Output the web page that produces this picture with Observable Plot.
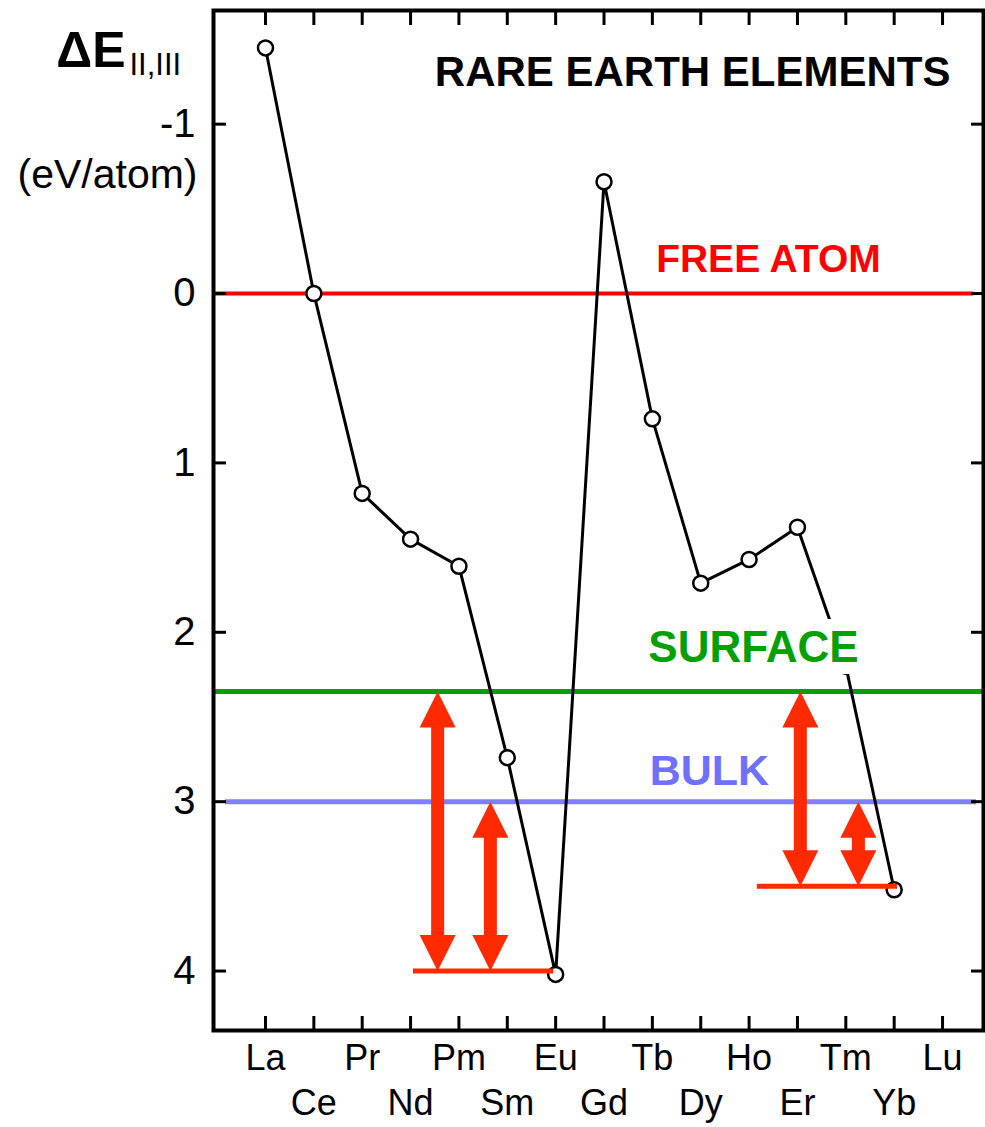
<!DOCTYPE html>
<html>
<head>
<meta charset="utf-8">
<script src="https://cdn.jsdelivr.net/npm/d3@7"></script>
<script src="https://cdn.jsdelivr.net/npm/@observablehq/plot@0.6"></script>
<style>
  html, body { margin: 0; padding: 0; background: #fff; }
</style>
</head>
<body>
<div id="chart"></div>
<script>
// Lanthanide series, La through Lu
const elements = ["La", "Ce", "Pr", "Nd", "Pm", "Sm", "Eu", "Gd", "Tb", "Dy", "Ho", "Er", "Tm", "Yb", "Lu"];
// ΔE(II,III) in eV/atom (no value plotted for Lu)
const deltaE = [-1.45, 0.0, 1.18, 1.45, 1.61, 2.74, 4.02, -0.66, 0.74, 1.71, 1.57, 1.38, 2.2, 3.52, null];

// Reference levels
const levelNames = ["FREE ATOM", "SURFACE", "BULK"];
const levelValues = [0, 2.35, 3.0];

// Divalent elements whose gaps to the surface and bulk levels are marked
const gapElements = ["Eu", "Yb"];
const gapBases = [4.0, 3.5];

const yTicks = [-1, 0, 1, 2, 3, 4];
const title = "RARE EARTH ELEMENTS";

// ---- derived tables ----
const points = elements
  .map((el, i) => ({i, el, e: deltaE[i]}))
  .filter(d => d.e != null);

const levelColors = ["#ff0000", "#00a000", "#7f7fff"];
const levelTextColors = ["#ff0000", "#00a000", "#7070ff"];
const arrowColor = "#ff2a00";

// annotation placement (in element-index units)
const gapLayout = [
  {shafts: [3.56, 4.65], span: [3.06, 5.96]},
  {shafts: [11.06, 12.26], span: [10.17, 13.07]}
];
const arrows = gapLayout.flatMap((g, k) => [
  {x: g.shafts[0], from: levelValues[1], to: gapBases[k]},
  {x: g.shafts[1], from: levelValues[2], to: gapBases[k]}
]);
const bases = gapLayout.map((g, k) => ({el: gapElements[k], y: gapBases[k], x1: g.span[0], x2: g.span[1]}));

const labelX = [10.4, 10.09, 9.18];
const labelDy = [-34, -44, -30];
const labelSize = [39, 44, 43];
const levels = levelNames.map((name, k) => ({name, value: levelValues[k], x: labelX[k]}));

// filled arrowheads with the tip at the origin
const headUp = {draw(ctx) { ctx.moveTo(0, 0); ctx.lineTo(18, 36); ctx.lineTo(-18, 36); ctx.closePath(); }};
const headDown = {draw(ctx) { ctx.moveTo(0, 0); ctx.lineTo(18, -36); ctx.lineTo(-18, -36); ctx.closePath(); }};

const idx = d3.range(elements.length);
const evens = idx.filter(i => i % 2 === 0);
const odds = idx.filter(i => i % 2 === 1);
const fmtY = d => d < 0 ? "-" + (-d) : String(d);

const chart = Plot.plot({
  width: 985,
  height: 1127,
  marginTop: 10,
  marginRight: 2,
  marginBottom: 97,
  marginLeft: 213,
  style: {fontFamily: "'Liberation Sans', Arial, sans-serif", color: "black", background: "white"},
  x: {type: "linear", domain: [-1.075, 14.847]},
  y: {type: "linear", domain: [4.351, -1.671]},
  marks: [
    // reference levels
    Plot.ruleY([levels[0]], {y: "value", stroke: levelColors[0], strokeWidth: 4, insetRight: 10}),
    Plot.ruleY([levels[1]], {y: "value", stroke: levelColors[1], strokeWidth: 5, insetRight: -2}),
    Plot.ruleY([levels[2]], {y: "value", stroke: levelColors[2], strokeWidth: 5, insetLeft: 12, insetRight: 7}),

    // frame and inward ticks
    Plot.frame({stroke: "black", strokeWidth: 4}),
    Plot.axisY({anchor: "left", ticks: yTicks, tickSize: -13, tickPadding: 31, strokeWidth: 3,
      tickFormat: fmtY, fontSize: 40, label: null}),
    Plot.axisY({anchor: "right", ticks: yTicks, tickSize: -13, strokeWidth: 3, tickFormat: () => "", label: null}),
    Plot.axisX({anchor: "bottom", ticks: idx, tickSize: -14, strokeWidth: 3, tickFormat: () => "", label: null}),
    Plot.axisX({anchor: "top", ticks: idx, tickSize: -14, strokeWidth: 3, tickFormat: () => "", label: null}),
    Plot.axisX({anchor: "bottom", ticks: evens, tickSize: 0, tickPadding: 14, tickFormat: i => elements[i], fontSize: 36, label: null}),
    Plot.axisX({anchor: "bottom", ticks: odds, tickSize: 0, tickPadding: 59, tickFormat: i => elements[i], fontSize: 36, label: null}),

    // ΔE series
    Plot.line(points, {x: "i", y: "e", stroke: "black", strokeWidth: 3}),
    Plot.dot(points, {x: "i", y: "e", r: 7.5, fill: "white", stroke: "black", strokeWidth: 2.5}),

    // gap arrows
    Plot.ruleY(bases, {y: "y", x1: "x1", x2: "x2", stroke: arrowColor, strokeWidth: 5}),
    Plot.ruleX(arrows, {x: "x", y1: "from", y2: "to", stroke: arrowColor, strokeWidth: 13, insetTop: 30, insetBottom: 30}),
    Plot.dot(arrows, {x: "x", y: "from", r: 1, symbol: headUp, fill: arrowColor, stroke: null}),
    Plot.dot(arrows, {x: "x", y: "to", r: 1, symbol: headDown, fill: arrowColor, stroke: null}),

    // level labels
    Plot.text([levels[0]], {x: "x", y: "value", text: "name", dy: labelDy[0], fontSize: labelSize[0],
      fontWeight: "bold", fill: levelTextColors[0], lineAnchor: "middle"}),
    Plot.text([levels[1]], {x: "x", y: "value", text: "name", dy: labelDy[1], fontSize: labelSize[1],
      fontWeight: "bold", fill: levelTextColors[1], stroke: "white", strokeWidth: 24, strokeLinejoin: "miter",
      paintOrder: "stroke", lineAnchor: "middle"}),
    Plot.text([levels[2]], {x: "x", y: "value", text: "name", dy: labelDy[2], fontSize: labelSize[2],
      fontWeight: "bold", fill: levelTextColors[2], lineAnchor: "middle"}),

    // title
    Plot.text([title], {frameAnchor: "top-right", dx: -33, dy: 62, textAnchor: "end", lineAnchor: "middle",
      fontSize: 42, fontWeight: "bold", fill: "black"}),

    // y-axis label
    Plot.text(["ΔE"], {frameAnchor: "top-left", dx: -88, dy: 40, textAnchor: "end", lineAnchor: "middle",
      fontSize: 50, fontWeight: "bold", fill: "black"}),
    Plot.text(["II,III"], {frameAnchor: "top-left", dx: -84, dy: 55, textAnchor: "start", lineAnchor: "middle",
      fontSize: 31, fill: "black"}),
    Plot.text(["(eV/atom)"], {frameAnchor: "top-left", dx: -16, dy: 164, textAnchor: "end", lineAnchor: "middle",
      fontSize: 41, fill: "black"})
  ]
});
document.getElementById("chart").appendChild(chart);
</script>
</body>
</html>
